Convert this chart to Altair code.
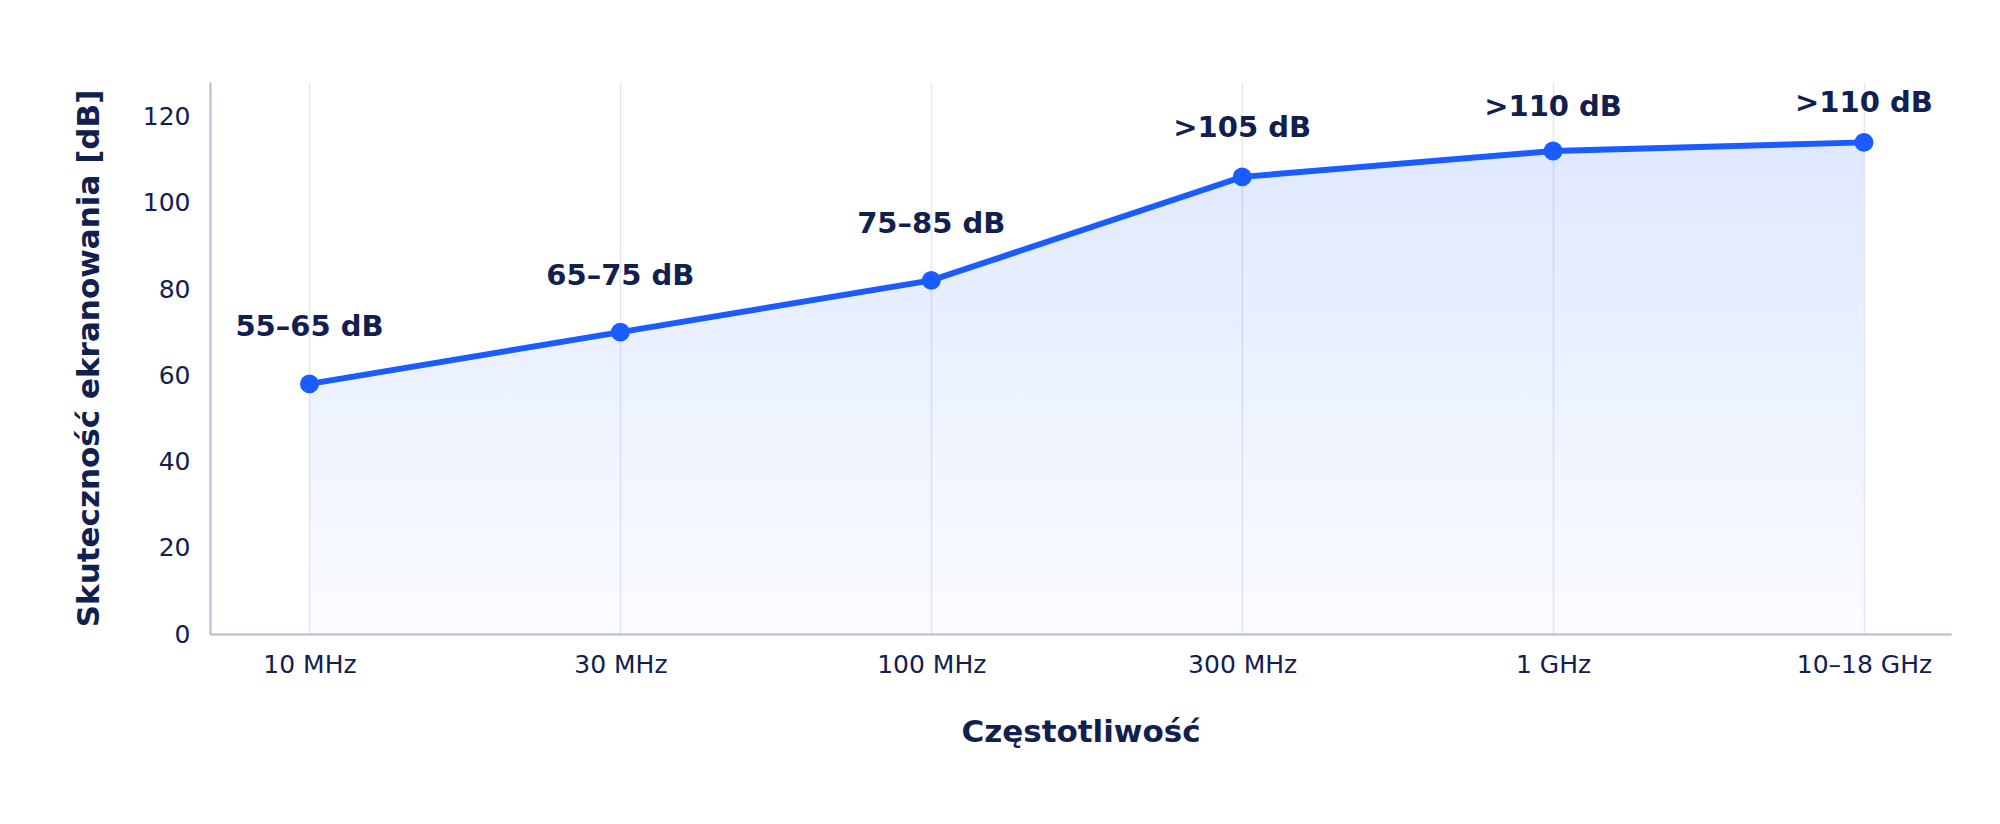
import json
import altair as alt
import pandas as pd

categories = ["10 MHz", "30 MHz", "100 MHz", "300 MHz", "1 GHz", "10–18 GHz"]
values = [58, 70, 82, 106, 112, 114]
labels = ["55–65 dB", "65–75 dB", "75–85 dB", ">105 dB", ">110 dB", ">110 dB"]
label_y = [69.2, 81.0, 92.9, 115.2, 120.2, 121.0]

df = pd.DataFrame({
    "idx": list(range(len(categories))),
    "cat": categories,
    "value": values,
    "label": labels,
    "label_y": label_y,
})

TEXT = "#12204f"
BLUE = "#1a5cff"
FONT = "DejaVu Sans"

label_expr = json.dumps(categories) + "[datum.value]"

x_scale = alt.Scale(domain=[-0.32, 5.28], nice=False, zero=False)
y_scale = alt.Scale(domain=[0, 128], nice=False)

x_axis = alt.Axis(
    values=list(range(len(categories))),
    labelExpr=label_expr,
    title="Częstotliwość",
    grid=True,
    gridColor="#e5e8f1",
    gridWidth=1.5,
    ticks=False,
    tickSize=0,
    labelPadding=18,
    labelFontSize=25,
    labelFont=FONT,
    labelColor=TEXT,
    titleFont=FONT,
    titleFontSize=31,
    titleFontWeight="bold",
    titleColor=TEXT,
    titleBaseline="alphabetic",
    titleY=107,
    domainColor="#b4bdd0",
    domainWidth=2,
)
y_axis = alt.Axis(
    values=[0, 20, 40, 60, 80, 100, 120],
    title="Skuteczność ekranowania [dB]",
    grid=False,
    ticks=False,
    tickSize=0,
    labelPadding=20,
    labelFontSize=25,
    labelFont=FONT,
    labelColor=TEXT,
    titleFont=FONT,
    titleFontSize=31,
    titleFontWeight="bold",
    titleColor=TEXT,
    titleBaseline="alphabetic",
    titleX=-112,
    domainColor="#b4bdd0",
    domainWidth=2,
)

X = alt.X("idx:Q", scale=x_scale, axis=x_axis)
Y = alt.Y("value:Q", scale=y_scale, axis=y_axis)

base = alt.Chart(df)

area = base.mark_area(
    color=alt.Gradient(
        gradient="linear",
        stops=[
            alt.GradientStop(color="rgba(26,92,255,0.02)", offset=0),
            alt.GradientStop(color="rgba(26,92,255,0.14)", offset=1),
        ],
        x1=1, x2=1, y1=1, y2=0,
    )
).encode(x=X, y=Y)

line = base.mark_line(color=BLUE, strokeWidth=6).encode(x=X, y=Y)

points = base.mark_circle(color=BLUE, size=360, opacity=1).encode(x=X, y=Y)

text = base.mark_text(
    font=FONT, fontSize=29, fontWeight="bold", color=TEXT,
    align="center", baseline="alphabetic",
).encode(
    x=X,
    y=alt.Y("label_y:Q", scale=y_scale, axis=y_axis),
    text="label:N",
)

chart = alt.layer(area, line, points, text).properties(
    width=1741,
    height=552,
    background="white",
    autosize=alt.AutoSizeParams(type="none"),
    padding={"left": 202, "top": 74, "right": 41, "bottom": 182},
).configure_view(stroke=None, strokeWidth=0)

chart.save("out.html", embed_options={"renderer": "svg", "actions": False})
